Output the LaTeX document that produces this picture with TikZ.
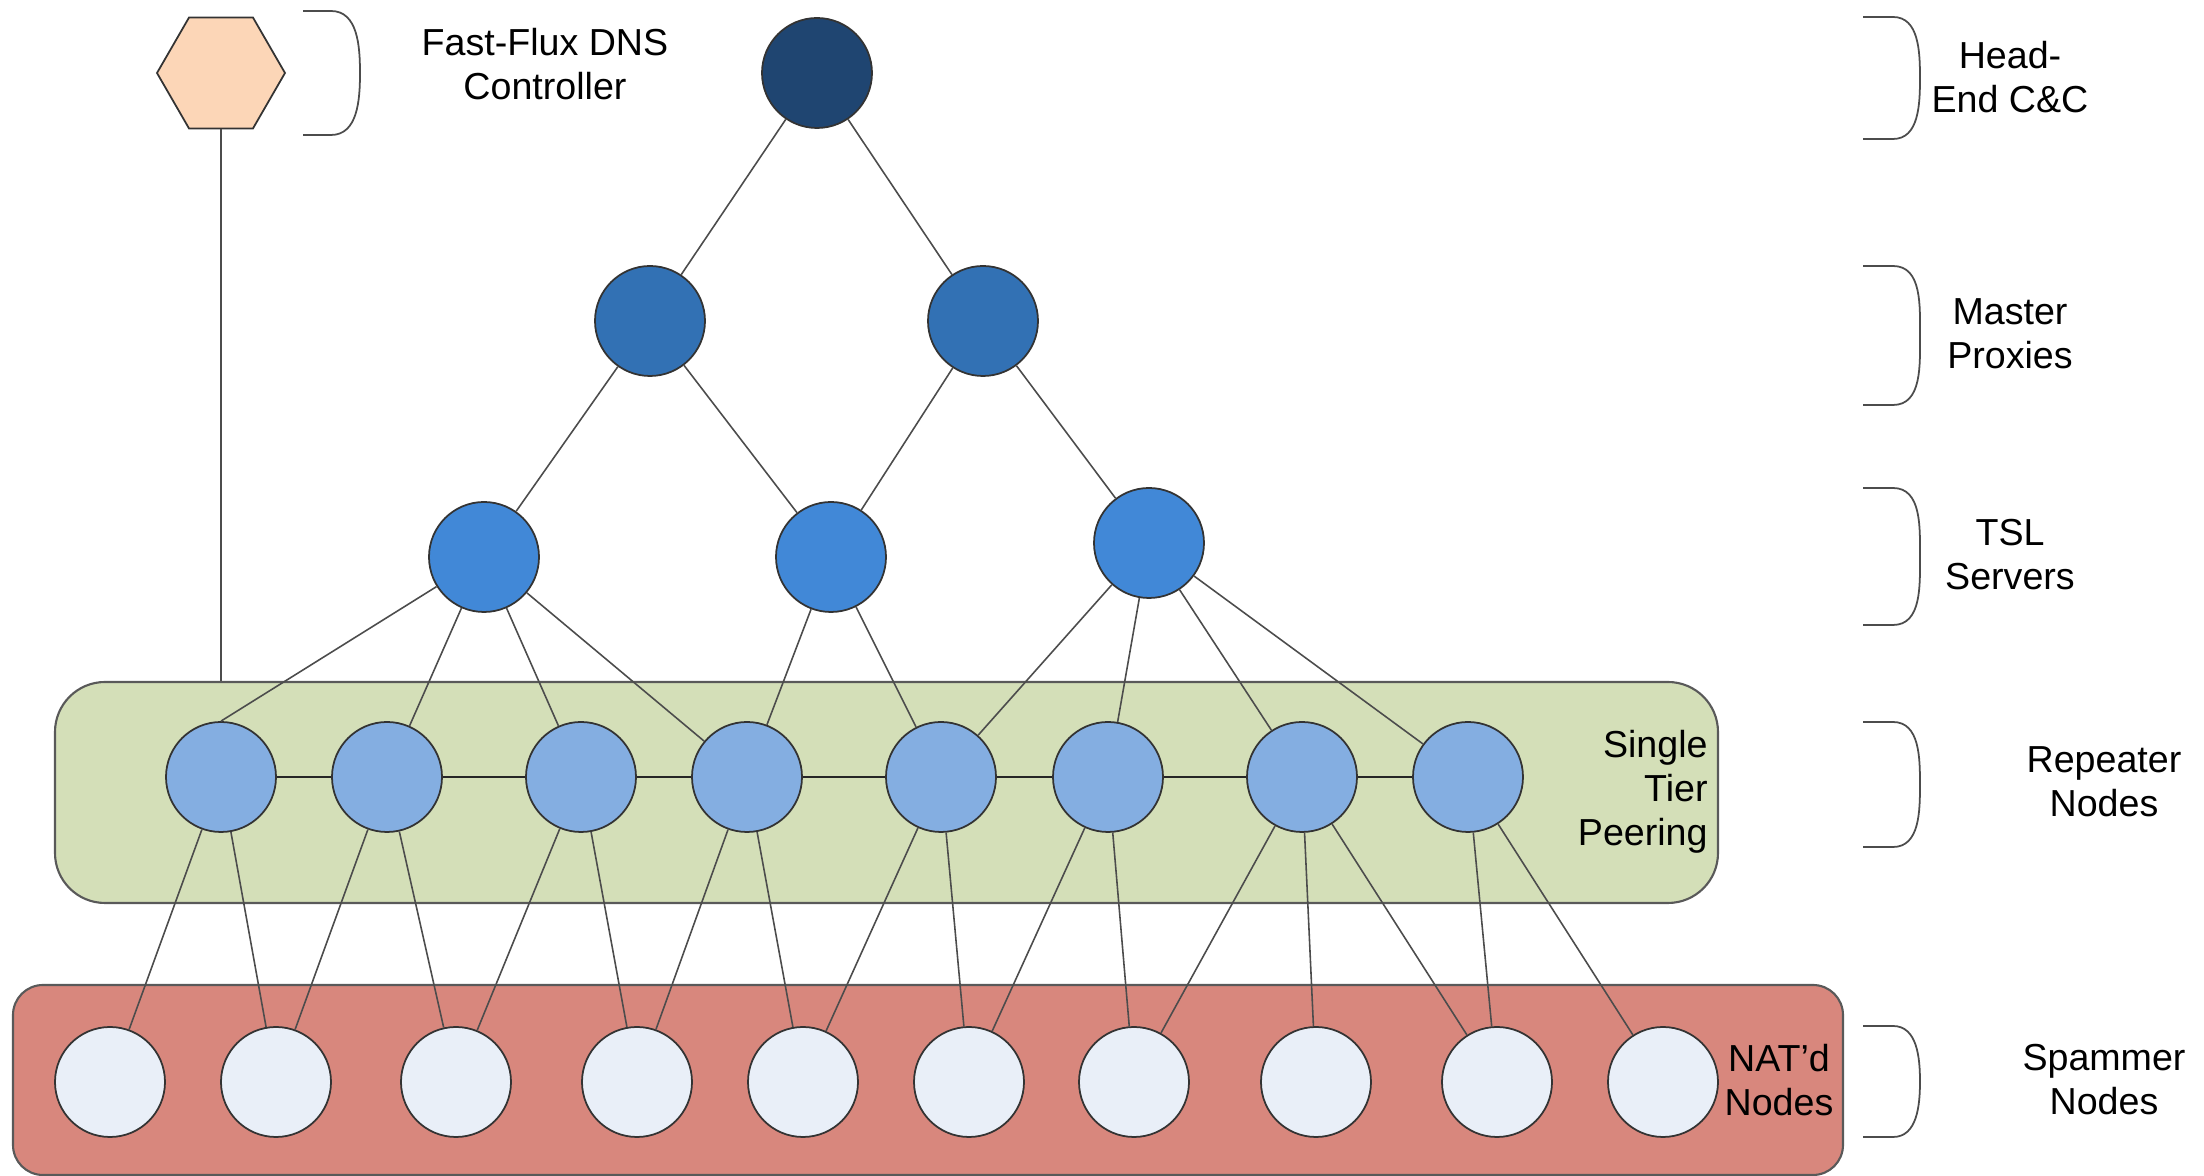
\documentclass[tikz,border=0pt]{standalone}
\usepackage{fontspec}
\setmainfont{Liberation Sans}
\usetikzlibrary{shapes.geometric}

\definecolor{headblue}{HTML}{1F4571}
\definecolor{masterblue}{HTML}{3271B4}
\definecolor{tslblue}{HTML}{4188D7}
\definecolor{repeaterblue}{HTML}{84AEE1}
\definecolor{spamwhite}{HTML}{E9EFF8}
\definecolor{peergreen}{HTML}{D4DFB8}
\definecolor{natred}{HTML}{D8877D}
\definecolor{fluxorange}{HTML}{FCD6B7}

\tikzset{
    host/.style={circle, draw=black!80, line width=0.5pt, minimum size=1.1cm, inner sep=0pt},
    link/.style={draw=black!70, line width=0.45pt},
    chain/.style={draw=black!85, line width=0.6pt},
    tierbrace/.style={draw=black!70, line width=0.5pt},
    tiername/.style={align=center}
}

\begin{document}
\begin{tikzpicture}[font=\fontsize{10.7}{12.5}\selectfont]
    \useasboundingbox (0,0) rectangle (22.04,-11.76);

    % Draw the background boxes
    \node[draw=black!65, line width=0.6pt, fill=peergreen, rounded corners=0.5cm,
          minimum width=16.63cm, minimum height=2.21cm] (peering) at (8.865,-7.925) {};
    \node[draw=black!65, line width=0.6pt, fill=natred, rounded corners=0.3cm,
          minimum width=18.30cm, minimum height=1.90cm] (natbox) at (9.28,-10.80) {};

    % Controller and the tree of servers
    \node[regular polygon, regular polygon sides=6, draw=black!80, line width=0.5pt,
          fill=fluxorange, minimum size=1.28cm, inner sep=0pt] (flux) at (2.21,-0.73) {};
    \node[host, fill=headblue] (head) at (8.17,-0.73) {};
    \node[host, fill=masterblue] (m1) at (6.50,-3.21) {};
    \node[host, fill=masterblue] (m2) at (9.83,-3.21) {};
    \node[host, fill=tslblue] (t1) at (4.84,-5.57) {};
    \node[host, fill=tslblue] (t2) at (8.31,-5.57) {};
    \node[host, fill=tslblue] (t3) at (11.49,-5.43) {};

    % Repeater and spammer rows
    \foreach \x [count=\i] in {2.21,3.87,5.81,7.47,9.41,11.08,13.02,14.68}
        \node[host, fill=repeaterblue] (r\i) at (\x,-7.77) {};
    \foreach \x [count=\i] in {1.10,2.76,4.56,6.37,8.03,9.69,11.34,13.16,14.97,16.63}
        \node[host, fill=spamwhite] (s\i) at (\x,-10.82) {};

    % Links
    \draw[link] (flux) -- (flux |- peering.north);
    \draw[link] (t1) -- (r1.north);
    \foreach \a/\b in {head/m1, head/m2, m1/t1, m1/t2, m2/t2, m2/t3,
                       t1/r2, t1/r3, t1/r4, t2/r4, t2/r5,
                       t3/r5, t3/r6, t3/r7, t3/r8}
        \draw[link] (\a) -- (\b);
    \foreach \i [remember=\i as \last (initially 1)] in {2,...,8}
        \draw[chain] (r\last) -- (r\i);
    \foreach \a/\b in {r1/s1, r1/s2, r2/s2, r2/s3, r3/s3, r3/s4, r4/s4, r4/s5,
                       r5/s5, r5/s6, r6/s6, r6/s7, r7/s7, r7/s8, r7/s9, r8/s9, r8/s10}
        \draw[link] (\a) -- (\b);

    % Braces
    \draw[tierbrace] (3.03,-0.11) -- ++(0.28,0) to[out=0,in=90] (3.60,-0.73)
        to[out=-90,in=0] (3.31,-1.35) -- (3.03,-1.35);
    \foreach \top/\bot in {0.17/1.39, 2.66/4.05, 4.88/6.25, 7.22/8.47, 10.26/11.37}
        \draw[tierbrace] (18.63,-\top) -- ++(0.30,0) to[out=0,in=90] (19.20,{-(\top+\bot)/2})
            to[out=-90,in=0] (18.93,-\bot) -- (18.63,-\bot);

    % Labels
    \node[tiername] (fluxname) at (5.45,-0.64) {Fast-Flux DNS\\Controller};
    \node[tiername] (headname) at (20.10,-0.77) {Head-\\End C\&C};
    \node[tiername] (mastername) at (20.10,-3.34) {Master\\Proxies};
    \node[tiername] (tslname) at (20.10,-5.55) {TSL\\Servers};
    \node[tiername] (repname) at (21.04,-7.82) {Repeater\\Nodes};
    \node[tiername] (spamname) at (21.04,-10.80) {Spammer\\Nodes};
    \node[align=right, anchor=east] (peername) at (17.20,-7.92) {Single\\Tier\\Peering};
    \node[tiername] (natname) at (17.79,-10.80) {NAT'd\\Nodes};

\end{tikzpicture}
\end{document}
